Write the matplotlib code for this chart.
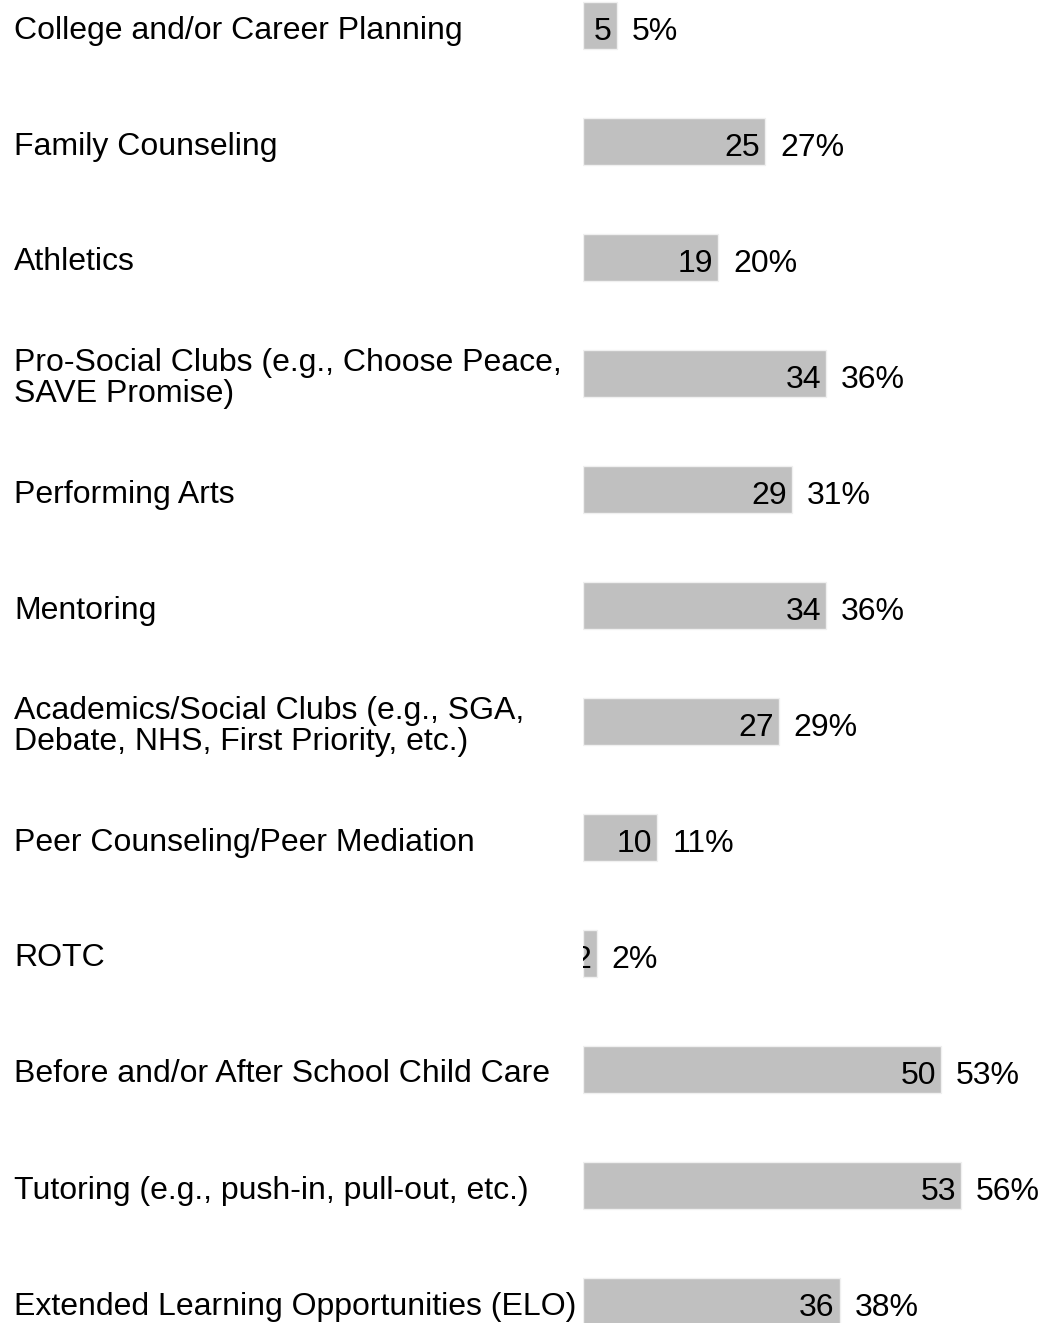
import matplotlib
matplotlib.use("Agg")
import matplotlib.pyplot as plt
import matplotlib.transforms as mtransforms

categories = [
    "College and/or Career Planning",
    "Family Counseling",
    "Athletics",
    "Pro-Social Clubs (e.g., Choose Peace,\nSAVE Promise)",
    "Performing Arts",
    "Mentoring",
    "Academics/Social Clubs (e.g., SGA,\nDebate, NHS, First Priority, etc.)",
    "Peer Counseling/Peer Mediation",
    "ROTC",
    "Before and/or After School Child Care",
    "Tutoring (e.g., push-in, pull-out, etc.)",
    "Extended Learning Opportunities (ELO)",
]
counts = [5, 25, 19, 34, 29, 34, 27, 10, 2, 50, 53, 36]
percents = [5, 27, 20, 36, 31, 36, 29, 11, 2, 53, 56, 38]

plt.rcParams["font.family"] = ["Liberation Sans", "DejaVu Sans"]
FS = 23

W, H = 1042, 1323
fig = plt.figure(figsize=(W / 100, H / 100), dpi=100)
ax = fig.add_axes([583 / W, 0, 1 - 583 / W, 1])

rows = list(range(len(categories)))
ax.barh(rows, percents, height=0.4, color="#c0c0c0", edgecolor="#f0f0f0", linewidth=1)

ax.set_xlim(0, (W - 583) / 6.75)
ax.set_ylim((H - 25.5) / 116, -25.5 / 116)
ax.axis("off")

px = 1 / 116  # one pixel in y data units
label_tr = mtransforms.blended_transform_factory(fig.transFigure, ax.transData)
for i, (cat, n, p) in enumerate(zip(categories, counts, percents)):
    ax.text(14 / W, i + 5 * px, cat, transform=label_tr, ha="left", va="center",
            fontsize=FS, linespacing=1.05, clip_on=False)
    ax.annotate(str(n), xy=(p, i + 7 * px), xytext=(-5, 0), textcoords="offset pixels",
                ha="right", va="center", fontsize=FS, annotation_clip=False, clip_on=True)
    ax.annotate(f"{p}%", xy=(p, i + 7 * px), xytext=(15, 0), textcoords="offset pixels",
                ha="left", va="center", fontsize=FS, annotation_clip=False)

fig.savefig("out.png", dpi=100)
